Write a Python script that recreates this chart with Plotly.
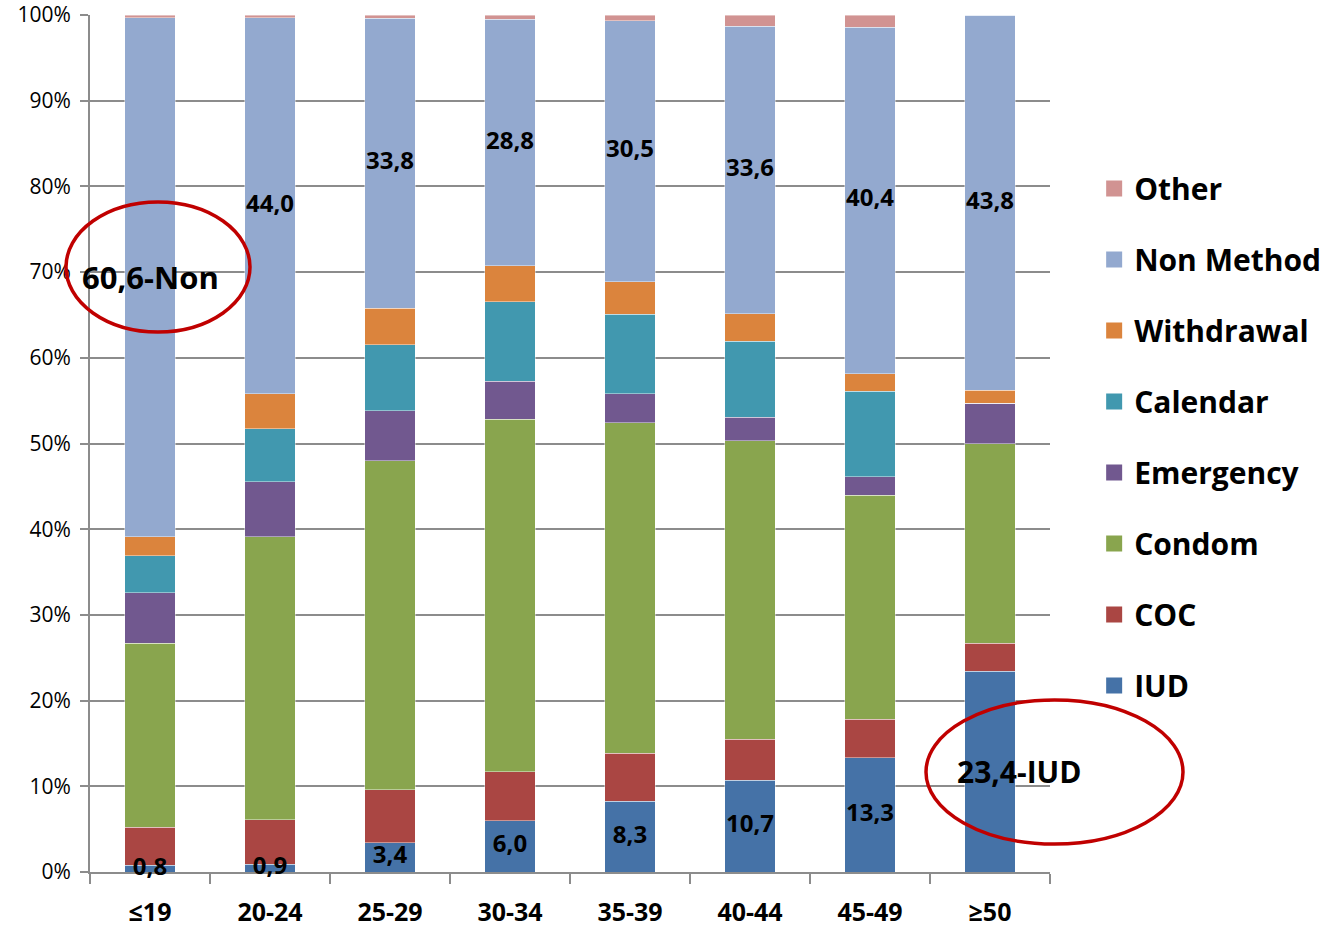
import plotly.graph_objects as go

categories = ["≤19", "20-24", "25-29", "30-34", "35-39", "40-44", "45-49", "≥50"]

iud        = [0.8, 0.9, 3.4, 6.0, 8.3, 10.7, 13.3, 23.4]
coc        = [4.4, 5.2, 6.2, 5.7, 5.6, 4.8, 4.5, 3.3]
condom     = [21.5, 33.1, 38.4, 41.2, 38.6, 34.9, 26.1, 23.3]
emergency  = [5.9, 6.4, 5.8, 4.4, 3.4, 2.7, 2.1, 4.7]
calendar   = [4.3, 6.2, 7.7, 9.3, 9.3, 8.9, 10.0, 0.0]
withdrawal = [2.2, 4.1, 4.3, 4.2, 3.8, 3.2, 2.0, 1.5]
non_method = [60.6, 44.0, 33.8, 28.8, 30.5, 33.6, 40.4, 43.8]
other      = [0.3, 0.3, 0.4, 0.5, 0.7, 1.3, 1.4, 0.0]

series_names = ["IUD", "COC", "Condom", "Emergency", "Calendar", "Withdrawal", "Non Method", "Other"]
series_values = [iud, coc, condom, emergency, calendar, withdrawal, non_method, other]
colors = ["#4572A7", "#AA4643", "#89A54E", "#71588F", "#4198AF", "#DB843D", "#93A9CF", "#D19392"]

iud_labels = ["0,8", "0,9", "3,4", "6,0", "8,3", "10,7", "13,3"]
non_labels = ["44,0", "33,8", "28,8", "30,5", "33,6", "40,4", "43,8"]

FONT = "Open Sans"

fig = go.Figure()

for name, vals, col in zip(series_names, series_values, colors):
    fig.add_trace(go.Bar(
        x=categories, y=vals, name=name,
        marker=dict(color=col, line=dict(color="rgba(255,255,255,0.6)", width=0.7)),
        showlegend=False, hoverinfo="skip",
    ))

# legend entries (top to bottom: Other ... IUD) with larger square symbols
for i, (name, col) in enumerate(reversed(list(zip(series_names, colors)))):
    fig.add_trace(go.Scatter(
        x=[categories[0]], y=[None], mode="markers", name=name,
        marker=dict(symbol="square", size=20, color=col),
        legendgroup=f"g{i}", showlegend=True, hoverinfo="skip",
    ))

# totals for normalisation (100% stacked)
totals = [sum(s[i] for s in series_values) for i in range(len(categories))]

def seg_mid(series_idx, i):
    below = sum(series_values[k][i] for k in range(series_idx))
    return (below + series_values[series_idx][i] / 2) * 100 / totals[i]

# IUD labels centred in the IUD segment
iud_y = [seg_mid(0, i) for i in range(7)]
fig.add_trace(go.Scatter(
    x=categories[:7], y=iud_y, mode="text", text=iud_labels,
    textfont=dict(family=FONT, size=24, color="black", weight="bold"),
    showlegend=False, hoverinfo="skip", cliponaxis=False,
))

# Non-method labels centred in the segment
non_y = [seg_mid(6, i) for i in range(1, 8)]
fig.add_trace(go.Scatter(
    x=categories[1:], y=non_y, mode="text", text=non_labels,
    textfont=dict(family=FONT, size=24, color="black", weight="bold"),
    showlegend=False, hoverinfo="skip", cliponaxis=False,
))

fig.add_annotation(x=categories[0], y=seg_mid(6, 0), text="<b>60,6-Non</b>",
                   showarrow=False, font=dict(family=FONT, size=31, color="black"))
fig.add_annotation(x=categories[7], y=seg_mid(0, 7), text="<b>23,4-IUD</b>",
                   showarrow=False, xshift=29, font=dict(family=FONT, size=30, color="black"))

# red ellipses (paper coordinates relative to plot area)
L, R, T, B = 90, 1050, 15, 872
def px(x): return (x - L) / (R - L)
def py(y): return (B - y) / (B - T)
fig.add_shape(type="circle", xref="paper", yref="paper",
              x0=px(66), x1=px(250), y0=py(332), y1=py(202),
              line=dict(color="#C00000", width=3.5))
fig.add_shape(type="circle", xref="paper", yref="paper",
              x0=px(926), x1=px(1183), y0=py(844), y1=py(700),
              line=dict(color="#C00000", width=3.5))

fig.update_layout(
    width=1344, height=928,
    barmode="stack", barnorm="percent", bargap=0.583,
    plot_bgcolor="white", paper_bgcolor="white",
    margin=dict(l=L, r=1344 - R, t=T, b=928 - B, autoexpand=False),
    font=dict(family=FONT, color="black"),
    legend=dict(
        x=1.046, y=0.828, xanchor="left", yanchor="top",
        traceorder="grouped", tracegroupgap=29,
        bgcolor="rgba(0,0,0,0)",
        font=dict(family=FONT, size=30, color="black", weight="bold"),
        itemclick=False,
    ),
    showlegend=True,
    hovermode=False,
)
fig.update_xaxes(
    type="category", range=[-0.5, 7.5],
    showline=True, linecolor="#8c8c8c", linewidth=2,
    ticks="outside", tickson="boundaries", ticklen=10, tickcolor="#8c8c8c", tickwidth=2,
    tickfont=dict(family=FONT, size=25, color="black", weight="bold"),
    ticklabelstandoff=17, ticklabeloverflow="allow",
    showgrid=False, automargin=False, layer="below traces",
)
fig.update_yaxes(
    range=[0, 100], tickvals=[0, 10, 20, 30, 40, 50, 60, 70, 80, 90, 100],
    ticktext=[f"{v}%" for v in range(0, 101, 10)],
    showline=True, linecolor="#8c8c8c", linewidth=2,
    ticks="outside", ticklen=8, tickcolor="#8c8c8c", tickwidth=2,
    showgrid=True, gridcolor="#8c8c8c", gridwidth=2,
    tickfont=dict(family=FONT, size=21, color="black"),
    ticklabelstandoff=5, ticklabeloverflow="allow",
    zeroline=False, automargin=False,
)

fig.write_html("out.html", config={"displayModeBar": False},
               post_script="document.body.style.margin='0px';")
